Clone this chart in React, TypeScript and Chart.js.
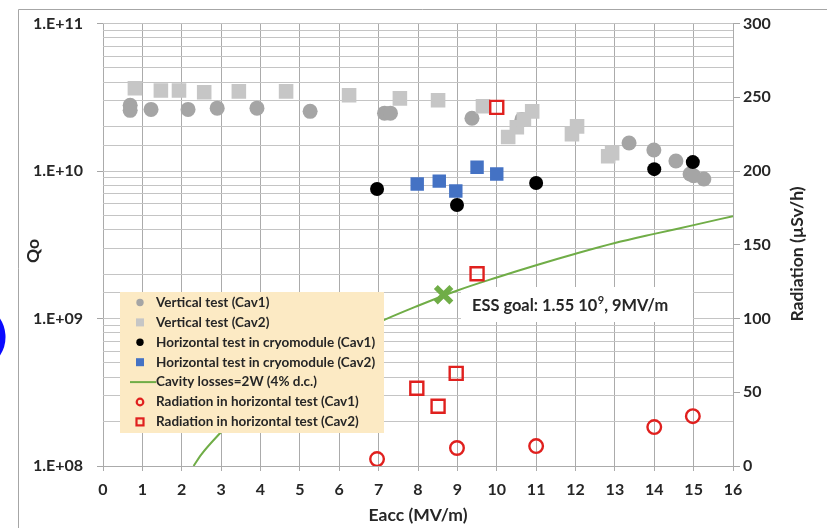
import React, { useEffect, useRef } from 'react';
import { Chart, registerables } from 'chart.js';

Chart.register(...registerables);

// ---------- data ----------
const vertCav1Eacc = [0.69, 0.69, 1.22, 2.16, 2.9, 3.91, 5.26, 7.15, 7.3, 9.37, 10.64, 13.36, 13.99, 14.55, 14.91, 15.0, 15.26];
const vertCav1Q = [2.79e10, 2.58e10, 2.62e10, 2.62e10, 2.67e10, 2.67e10, 2.54e10, 2.47e10, 2.47e10, 2.28e10, 2.24e10, 1.55e10, 1.39e10, 1.17e10, 9.55e9, 9.3e9, 8.83e9];

const vertCav2Eacc = [0.81, 1.47, 1.93, 2.57, 3.45, 4.65, 6.25, 7.54, 8.51, 9.65, 10.29, 10.51, 10.69, 10.9, 11.91, 12.04, 12.83, 12.93];
const vertCav2Q = [3.64e10, 3.52e10, 3.52e10, 3.42e10, 3.47e10, 3.47e10, 3.27e10, 3.11e10, 3.02e10, 2.75e10, 1.7e10, 1.98e10, 2.24e10, 2.54e10, 1.78e10, 2.01e10, 1.26e10, 1.32e10];

const horizCav1Eacc = [6.96, 8.99, 11.0, 14.0, 14.98];
const horizCav1Q = [7.55e9, 5.89e9, 8.3e9, 1.03e10, 1.15e10];

const horizCav2Eacc = [7.98, 8.54, 8.96, 9.5, 10.0];
const horizCav2Q = [8.17e9, 8.55e9, 7.33e9, 1.06e10, 9.55e9];

const lossEacc = [2.3, 2.5, 3, 3.5, 4, 5, 6, 7, 8, 9, 10, 11, 12, 13, 14, 15, 16];
const lossQ = [1.0e8, 1.2e8, 1.7e8, 2.35e8, 3.1e8, 4.8e8, 6.9e8, 9.4e8, 1.22e9, 1.55e9, 1.9e9, 2.3e9, 2.75e9, 3.25e9, 3.75e9, 4.3e9, 4.95e9];

const radCav1Eacc = [6.96, 8.99, 11.0, 14.0, 14.98];
const radCav1 = [4.7, 12.2, 13.5, 26.4, 33.8];

const radCav2Eacc = [7.97, 8.51, 8.97, 9.5, 10.0];
const radCav2 = [52.7, 40.5, 62.8, 130.4, 243.2];

const essGoalEacc = [8.65];
const essGoalQ = [1.45e9];

const xTicks = [0, 16];
const qRange = [1e8, 1e11];
const radRange = [0, 300];

const legendLabels = [
  'Vertical test (Cav1)',
  'Vertical test (Cav2)',
  'Horizontal test in cryomodule (Cav1)',
  'Horizontal test in cryomodule (Cav2)',
  'Cavity losses=2W (4% d.c.)',
  'Radiation in horizontal test (Cav1)',
  'Radiation in horizontal test (Cav2)',
];

const FONT = 'Lato, "Open Sans", sans-serif';
const GRAY1 = '#A5A5A5';
const GRAY2 = '#C6C6C6';
const BLUE = '#4472C4';
const RED = '#E0201E';
const GREEN = '#70AD47';
const TEXT = '#262626';

const pts = (xs: number[], ys: number[]) => xs.map((x, i) => ({ x, y: ys[i] }));

const isPow10 = (v: number) => {
  const l = Math.log10(v);
  return Math.abs(l - Math.round(l)) < 1e-9;
};

const decorPlugin = {
  id: 'decor',
  beforeDatasetsDraw(chart: any) {
    const ctx = chart.ctx;
    const a = chart.chartArea;
    ctx.save();
    ctx.fillStyle = '#ffffff';
    ctx.fillRect(a.left + 358, 287, 232, 35);
    ctx.restore();
  },
  afterDatasetsDraw(chart: any) {
    const ctx = chart.ctx;
    const a = chart.chartArea;
    ctx.save();
    // ESS annotation
    ctx.fillStyle = TEXT;
    ctx.textBaseline = 'alphabetic';
    ctx.textAlign = 'left';
    ctx.font = `bold 16.4px ${FONT}`;
    let tx = a.left + 369;
    const ty = 311;
    const t1 = 'ESS goal: 1.55 10';
    ctx.fillText(t1, tx, ty);
    tx += ctx.measureText(t1).width;
    ctx.font = `bold 11px ${FONT}`;
    ctx.fillText('9', tx + 0.5, ty - 7);
    tx += ctx.measureText('9').width + 0.5;
    ctx.font = `bold 16.4px ${FONT}`;
    ctx.fillText(', 9MV/m', tx, ty);

    // legend
    const lx = a.left + 17;
    const ly = 292;
    ctx.fillStyle = '#FCEAC4';
    ctx.fillRect(lx, ly, 264, 141);
    const mx = lx + 20;
    const textX = lx + 36;
    ctx.font = `bold 13.5px ${FONT}`;
    ctx.textBaseline = 'middle';
    legendLabels.forEach((lab, i) => {
      const y = ly + 10.5 + i * 19.9;
      ctx.lineWidth = 2;
      switch (i) {
        case 0:
          ctx.fillStyle = GRAY1;
          ctx.beginPath(); ctx.arc(mx, y, 3.7, 0, Math.PI * 2); ctx.fill();
          break;
        case 1:
          ctx.fillStyle = GRAY2;
          ctx.fillRect(mx - 4, y - 4, 8, 8);
          break;
        case 2:
          ctx.fillStyle = '#000';
          ctx.beginPath(); ctx.arc(mx, y, 3.7, 0, Math.PI * 2); ctx.fill();
          break;
        case 3:
          ctx.fillStyle = BLUE;
          ctx.fillRect(mx - 4, y - 4, 8, 8);
          break;
        case 4:
          ctx.strokeStyle = GREEN;
          ctx.beginPath(); ctx.moveTo(mx - 10, y); ctx.lineTo(textX, y); ctx.stroke();
          break;
        case 5:
          ctx.strokeStyle = RED; ctx.lineWidth = 2.2;
          ctx.beginPath(); ctx.arc(mx, y, 3.3, 0, Math.PI * 2); ctx.stroke();
          break;
        case 6:
          ctx.strokeStyle = RED; ctx.lineWidth = 2.2;
          ctx.strokeRect(mx - 3.5, y - 3.5, 7, 7);
          break;
      }
      ctx.fillStyle = TEXT;
      ctx.fillText(lab, textX, y);
    });
    ctx.restore();
  },
  afterDraw(chart: any) {
    const ctx = chart.ctx;
    const a = chart.chartArea;
    ctx.save();
    // axis titles
    ctx.fillStyle = TEXT;
    ctx.font = `bold 17.5px ${FONT}`;
    ctx.textAlign = 'center';
    ctx.textBaseline = 'middle';
    ctx.fillText('Eacc (MV/m)', (a.left + a.right) / 2, 515);
    ctx.save();
    ctx.translate(33, 251);
    ctx.rotate(-Math.PI / 2);
    ctx.fillText('Qo', 0, 0);
    ctx.restore();
    ctx.save();
    ctx.translate(797, 254);
    ctx.rotate(-Math.PI / 2);
    ctx.fillText('Radiation (µSv/h)', 0, 0);
    ctx.restore();
    // frame
    ctx.strokeStyle = '#A6A6A6';
    ctx.lineWidth = 1;
    ctx.beginPath();
    ctx.moveTo(18.5, 528);
    ctx.lineTo(18.5, 9.5);
    ctx.lineTo(827, 9.5);
    ctx.stroke();
    // blue arc fragment at left edge
    ctx.strokeStyle = '#0A0AFF';
    ctx.lineWidth = 7;
    ctx.beginPath();
    ctx.arc(-28, 337, 30, -0.85, 0.85);
    ctx.stroke();
    ctx.restore();
  },
};

export default function App() {
  const ref = useRef<HTMLCanvasElement | null>(null);

  useEffect(() => {
    if (!ref.current) return;
    const tickFont = { family: FONT, size: 16, weight: 'bold' as const };
    const chart = new Chart(ref.current, {
      type: 'scatter',
      data: {
        datasets: [
          {
            label: legendLabels[0],
            data: pts(vertCav1Eacc, vertCav1Q),
            backgroundColor: GRAY1,
            borderColor: GRAY1,
            pointStyle: 'circle',
            pointRadius: 7.5,
            borderWidth: 0,
            yAxisID: 'y',
            order: 10,
          },
          {
            label: legendLabels[1],
            data: pts(vertCav2Eacc, vertCav2Q),
            backgroundColor: GRAY2,
            borderColor: GRAY2,
            pointStyle: 'rect',
            pointRadius: 10.3,
            borderWidth: 0,
            yAxisID: 'y',
            order: 9,
          },
          {
            label: legendLabels[2],
            data: pts(horizCav1Eacc, horizCav1Q),
            backgroundColor: '#000',
            borderColor: '#000',
            pointStyle: 'circle',
            pointRadius: 7,
            borderWidth: 0,
            yAxisID: 'y',
            order: 8,
          },
          {
            label: legendLabels[3],
            data: pts(horizCav2Eacc, horizCav2Q),
            backgroundColor: BLUE,
            borderColor: BLUE,
            pointStyle: 'rect',
            pointRadius: 9.5,
            borderWidth: 0,
            yAxisID: 'y',
            order: 7,
          },
          {
            label: legendLabels[4],
            data: pts(lossEacc, lossQ),
            showLine: true,
            borderColor: GREEN,
            backgroundColor: GREEN,
            borderWidth: 2,
            pointRadius: 0,
            cubicInterpolationMode: 'monotone',
            yAxisID: 'y',
            order: 6,
          } as any,
          {
            label: 'ESS goal',
            data: pts(essGoalEacc, essGoalQ),
            borderColor: GREEN,
            backgroundColor: GREEN,
            pointStyle: 'crossRot',
            pointRadius: 11,
            borderWidth: 5.5,
            yAxisID: 'y',
            order: 5,
          },
          {
            label: legendLabels[5],
            data: pts(radCav1Eacc, radCav1),
            borderColor: RED,
            backgroundColor: 'rgba(0,0,0,0)',
            pointStyle: 'circle',
            pointRadius: 6.8,
            borderWidth: 2.4,
            yAxisID: 'y2',
            order: 4,
          },
          {
            label: legendLabels[6],
            data: pts(radCav2Eacc, radCav2),
            borderColor: RED,
            backgroundColor: 'rgba(0,0,0,0)',
            pointStyle: 'rect',
            pointRadius: 9.2,
            borderWidth: 2.4,
            yAxisID: 'y2',
            order: 3,
          },
        ],
      },
      options: {
        animation: false,
        responsive: false,
        devicePixelRatio: 1,
        layout: { padding: { top: 22, left: 0, right: 0, bottom: 0 } },
        plugins: {
          legend: { display: false },
          tooltip: { enabled: false },
          title: { display: false },
        },
        scales: {
          x: {
            type: 'linear',
            min: xTicks[0],
            max: xTicks[1],
            afterFit: (s: any) => { s.height = 62; },
            ticks: {
              stepSize: 1,
              color: TEXT,
              font: tickFont,
              padding: 9,
              maxRotation: 0,
            },
            grid: { color: '#ABABAB', tickLength: 5, tickColor: '#ABABAB' },
            border: { color: '#ABABAB' },
          },
          y: {
            type: 'logarithmic',
            position: 'left',
            min: qRange[0],
            max: qRange[1],
            afterFit: (s: any) => { s.width = 103; },
            ticks: {
              autoSkip: false,
              color: TEXT,
              font: tickFont,
              padding: 14,
              callback: (v: any) => {
                const n = Number(v);
                if (!isPow10(n)) return '';
                const e = Math.round(Math.log10(n));
                return '1.E+' + (e < 10 ? '0' + e : String(e));
              },
            },
            grid: {
              color: '#C4C4C4',
              tickLength: 6,
              tickColor: (c: any) => (c.tick && isPow10(c.tick.value) ? '#A6A6A6' : 'rgba(0,0,0,0)'),
            },
            border: { display: false },
          },
          y2: {
            type: 'linear',
            position: 'right',
            min: radRange[0],
            max: radRange[1],
            afterFit: (s: any) => { s.width = 94; },
            ticks: {
              stepSize: 50,
              color: TEXT,
              font: tickFont,
              padding: 3,
            },
            grid: { drawOnChartArea: false, tickLength: 7, tickColor: '#A6A6A6' },
            border: { color: '#ABABAB' },
          },
        },
      },
      plugins: [decorPlugin],
    } as any);
    return () => chart.destroy();
  }, []);

  return (
    <div style={{ position: 'fixed', left: 0, top: 0, width: 827, height: 528, background: '#fff' }}>
      <canvas ref={ref} width={827} height={528} style={{ width: 827, height: 528, display: 'block' }} />
    </div>
  );
}
